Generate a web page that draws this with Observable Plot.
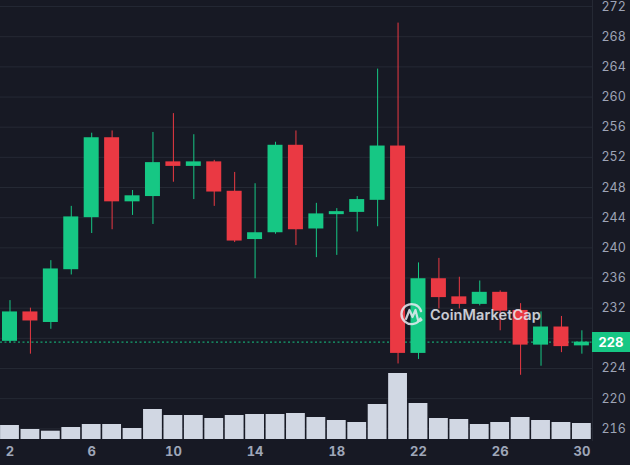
<!DOCTYPE html>
<html>
<head>
<meta charset="utf-8">
<script src="https://cdn.jsdelivr.net/npm/d3@7"></script>
<script src="https://cdn.jsdelivr.net/npm/@observablehq/plot@0.6"></script>
<style>
  html, body { margin: 0; padding: 0; background: #171924; }
  #wrap { position: relative; width: 630px; height: 465px; overflow: hidden; background: #171924; font-family: Inter, "Noto Sans", sans-serif; }
  #wrap > svg, #wrap > .layer { position: absolute; left: 0; top: 0; }
  #price { position: absolute; left: 592px; width: 38px; height: 20px; background: #16c784; color: #fff; font: 700 13px Inter, sans-serif; line-height: 20px; text-align: center; }
  #wm { position: absolute; left: 400px; top: 302px; display: flex; align-items: center; gap: 6px; opacity: 0.85; }
  #wm span { color: #e8ebf2; font: 600 14.5px Inter, sans-serif; letter-spacing: 0.1px; }
</style>
</head>
<body>
<div id="wrap"></div>
<script>
// ---- data ----
const days   = [2,3,4,5,6,7,8,9,10,11,12,13,14,15,16,17,18,19,20,21,22,23,24,25,26,27,28,29,30];
const opens  = [227.6,231.5,230.1,237.1,244.0,254.6,246.1,246.8,251.4,250.8,251.4,247.5,241.1,242.0,253.6,242.5,244.4,244.7,246.3,253.5,226.0,235.9,233.5,232.5,234.1,231.7,227.1,229.5,227.0];
const highs  = [233.0,232.0,238.3,245.5,255.2,255.5,247.6,255.3,257.8,255.0,251.6,250.0,248.5,254.0,255.5,245.9,245.2,246.8,263.7,269.8,238.0,238.6,236.1,235.6,234.3,232.6,231.5,230.9,229.0];
const lows   = [227.4,225.9,229.2,236.4,241.9,242.4,244.3,243.1,248.7,246.4,245.5,240.7,235.9,241.8,240.3,238.7,239.0,242.1,242.8,224.6,225.2,231.9,231.9,232.3,229.0,223.1,224.3,226.1,225.9];
const closes = [231.5,230.3,237.2,244.1,254.6,246.1,246.9,251.3,250.8,251.4,247.4,240.9,242.0,253.6,242.4,244.5,244.8,246.4,253.5,226.0,235.9,233.4,232.5,234.1,231.6,227.1,229.5,226.9,227.5];
const volumes = [140,100,83,120,150,150,110,300,240,240,210,240,250,250,260,220,190,170,350,660,360,210,200,150,170,220,190,170,160];
const xTicks = [2,6,10,14,18,22,26,30];
const yTicks = [216,220,224,228,232,236,240,244,248,252,256,260,264,268,272];

const data = days.map((d, i) => ({day: d, open: opens[i], high: highs[i], low: lows[i], close: closes[i], vol: volumes[i]}));
const GREEN = "#16c784", RED = "#ea3943";
const col = d => d.close >= d.open ? GREEN : RED;

const last = closes[closes.length - 1];
const lastLabel = Math.round(last);
// the current-price tag covers the axis label at that level
const yLabelTicks = yTicks.filter(t => t !== lastLabel);

const W = 630, H = 465;
const xDomain = [1.535, 30.52];
const yDomain = [214.45, 272.8];
const common = {width: W, height: H, marginLeft: 0, marginRight: 38, marginTop: 0, marginBottom: 25};

// Layer A: grid + axes
const base = Plot.plot({
  ...common,
  style: {background: "transparent", fontFamily: "Inter, sans-serif"},
  x: {domain: xDomain},
  y: {domain: yDomain},
  marks: [
    Plot.gridY(yTicks, {stroke: "#252934", strokeOpacity: 1}),
    Plot.frame({anchor: "right", stroke: "#252934"}),
    Plot.axisY(yLabelTicks, {anchor: "right", tickSize: 0, tickPadding: 9, fill: "#9ea4b6", fontSize: 12.5, label: null, textAnchor: "start"}),
    Plot.axisX(xTicks, {anchor: "bottom", tickSize: 0, tickPadding: 6, fill: "#9ea6b8", fontSize: 13, fontWeight: 700, label: null})
  ]
});

// Layer B: volume
const vol = Plot.plot({
  ...common,
  marginBottom: 26,
  style: {background: "transparent"},
  x: {domain: xDomain, axis: null},
  y: {domain: [0, 4390], axis: null},
  marks: [
    Plot.rectY(data, {x1: d => d.day - 0.5, x2: d => d.day + 0.5, y: "vol", fill: "#d1d7e3", insetLeft: 0.8, insetRight: 0.8, clip: true})
  ]
});

// Layer C: candles
const candles = Plot.plot({
  ...common,
  style: {background: "transparent"},
  x: {domain: xDomain, axis: null},
  y: {domain: yDomain, axis: null},
  marks: [
    Plot.ruleY([last], {stroke: GREEN, strokeDasharray: "2,2.5", strokeWidth: 1}),
    Plot.ruleX(data, {x: "day", y1: "low", y2: "high", stroke: col, strokeWidth: 1}),
    Plot.rect(data, {x1: d => d.day - 0.367, x2: d => d.day + 0.367, y1: "open", y2: "close", fill: col})
  ]
});

const wrap = document.getElementById("wrap");
wrap.appendChild(base);
wrap.appendChild(vol);
wrap.appendChild(candles);

// current price label
const py = candles.scale("y").apply(last);
const price = document.createElement("div");
price.id = "price";
price.style.top = (py - 10) + "px";
price.textContent = lastLabel;
wrap.appendChild(price);

// watermark
const wm = document.createElement("div");
wm.id = "wm";
wm.innerHTML = `<svg width="24" height="24" viewBox="0 0 24 24"><path d="M20.5 16.5 A10 10 0 1 1 21 9" fill="none" stroke="#e8ebf2" stroke-width="2.4" stroke-linecap="round"/><path d="M6 17 L9.5 8 L12.5 15 L15.5 8 L18 18 Q19 20 21.5 18" fill="none" stroke="#e8ebf2" stroke-width="2.2" stroke-linejoin="round" stroke-linecap="round"/></svg><span>CoinMarketCap</span>`;
wrap.appendChild(wm);
</script>
</body>
</html>
